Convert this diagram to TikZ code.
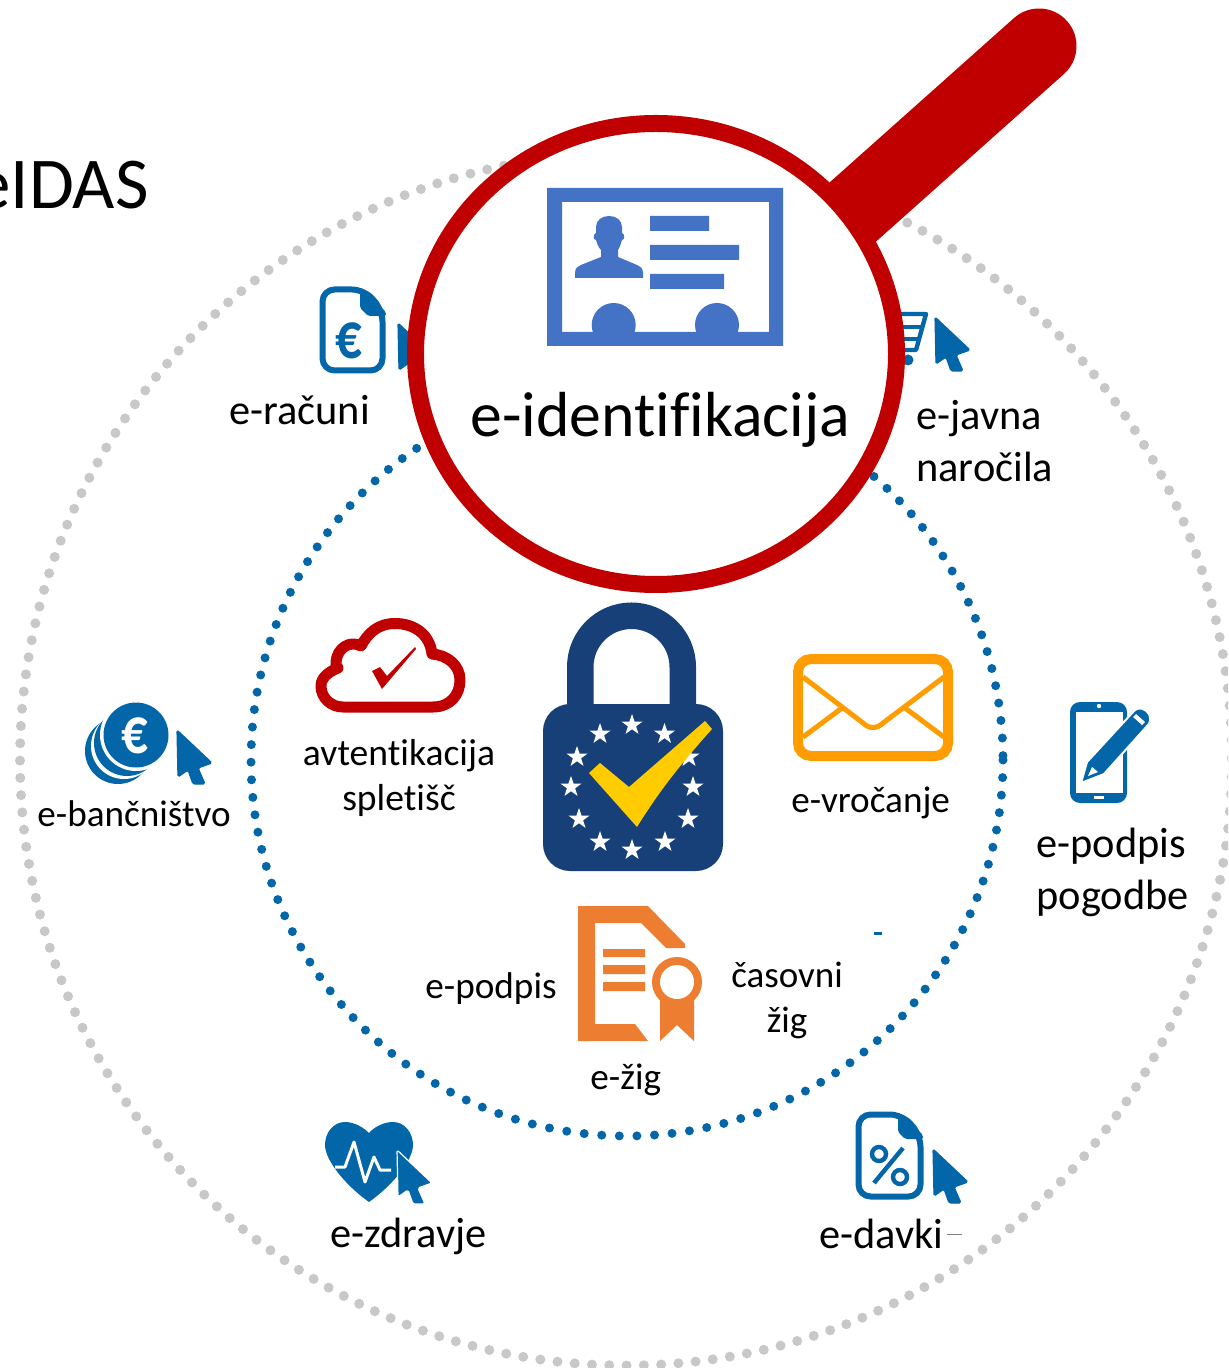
\documentclass[tikz,border=0pt]{standalone}
\usepackage{fontspec}
\setmainfont[Ligatures=NoCommon]{Carlito}
\definecolor{iconblue}{HTML}{0366A9}
\definecolor{dotgrey}{HTML}{C8C8C8}
\definecolor{magred}{HTML}{C00000}
\definecolor{cardblue}{HTML}{4472C4}
\definecolor{lockblue}{HTML}{174078}
\definecolor{checkyellow}{HTML}{FFCC00}
\definecolor{mailorange}{HTML}{FF9C00}
\definecolor{sealorange}{HTML}{ED7D31}
\tikzset{
  biglabel/.style={anchor=base west,inner sep=0pt,font=\fontsize{21.2}{24}\selectfont},
  smalllabel/.style={anchor=base west,inner sep=0pt,font=\fontsize{18.6}{22}\selectfont},
  midlabel/.style={anchor=base,inner sep=0pt,font=\fontsize{18.8}{22}\selectfont},
  eurosign/.style={inner sep=0pt,font=\fontsize{33}{35}\selectfont\bfseries},
  docline/.style={draw=iconblue,line width=3pt,rounded corners=6pt,line join=round},
}
\newcommand\curs[3][iconblue]{%
  \begin{scope}[shift={(#2,#3)}]
    \path[fill=iconblue,draw=#1,line width=0.6pt,rounded corners=0.8pt,line join=round]
      (0,0) -- (35,33) -- (21,38) -- (28,54) -- (16,54) -- (11,40) -- (1,47) -- cycle;
  \end{scope}}
\newcommand\eustar[2]{%
  \begin{scope}[shift={(#1,#2)}]
    \fill[white] (0,-11) -- (2.6,-3.4) -- (10.5,-3.4) -- (4.1,1.3) -- (6.5,8.9) -- (0,4.2)
      -- (-6.5,8.9) -- (-4.1,1.3) -- (-10.5,-3.4) -- (-2.6,-3.4) -- cycle;
  \end{scope}}
\begin{document}
\begin{tikzpicture}[x=0.5pt,y=-0.5pt]
\useasboundingbox (0,0) rectangle (1228,1368);
\clip (0,0) rectangle (1228,1368);
\fill[white] (0,0) rectangle (1228,1368);
% dotted rings
\draw[dotgrey,line width=5pt,line cap=round,dash pattern=on 0pt off 8.65pt] (626,759.5) circle [radius=606];
\draw[iconblue,line width=4.5pt,line cap=round,dash pattern=on 0pt off 8.8pt] (627,760) circle [radius=376];
\fill[iconblue] (874,932) rectangle (882,934.5);
% title
\node[anchor=base east,inner sep=0pt,font=\fontsize{36.5}{40}\selectfont] (title) at (149,209) {eIDAS};
% e-racuni icon
\draw[docline] (322.5,330) -- (322.5,289.5) -- (364,289.5) -- (382.5,310) -- (382.5,370.5) -- (322.5,370.5) -- cycle;
\fill[iconblue,rounded corners=1pt] (360,287) -- (386,312) -- (386,316) -- (368,316) -- (360,308) -- cycle;
\node[eurosign,text=iconblue] (euroA) at (349,341) {\scalebox{.8}[1]{€}};
\curs{398}{323}
% cart
\draw[iconblue,line width=2.2pt,line join=round] (897,314) -- (926,314) -- (916,350) -- (900,350);
\draw[iconblue,line width=2pt] (900,327) -- (922,327) (900,339) -- (919,339);
\fill[iconblue] (908,360) circle [radius=5.5];
\curs{935}{317}
% handle and ring
\draw[magred,line width=37.5pt,line cap=round] (1039,46) -- (790,268);
\draw[magred,fill=white,line width=8.5pt] (656,354) ellipse [x radius=240.5,y radius=230.5];
% card
\fill[cardblue,even odd rule] (547,188) rectangle (783,346) (562,202) rectangle (769,332);
\fill[cardblue] (650,216) rectangle (709,231) (650,245) rectangle (739,260) (650,274) rectangle (724,289);
\begin{scope}
  \clip (562,202) rectangle (769,333);
  \fill[cardblue] (613.7,325) circle [radius=22] (717,325) circle [radius=22];
\end{scope}
\fill[cardblue] (575,278) -- (575,273) .. controls (575,268) and (578,266) .. (581,265) -- (601,257) -- (601,250)
  .. controls (598,247) and (597,243) .. (596,240) .. controls (593,240) and (593,234) .. (596,233) -- (596,227)
  .. controls (596,220) and (602,216) .. (609,216) .. controls (616,216) and (622,220) .. (622,227) -- (622,233)
  .. controls (625,234) and (625,240) .. (622,240) .. controls (621,243) and (620,247) .. (618,250) -- (618,257)
  -- (637,265) .. controls (640,266) and (643,268) .. (643,273) -- (643,278) -- cycle;
\node[anchor=base west,inner sep=0pt,font=\fontsize{31.85}{36}\selectfont] (eid) at (470,437) {e-identifikacija};
% cloud
\draw[magred,line width=5.5pt,line join=round] (343,707) -- (433,707) .. controls (450,707) and (460,695) .. (460,680)
  .. controls (460,665) and (447,655) .. (432,654) .. controls (430,635) and (415,623.5) .. (395,623.5)
  .. controls (378,623.5) and (368,633) .. (361,646) .. controls (350,640) and (337,648) .. (336,662)
  .. controls (335,664) and (337,666) .. (338,668) .. controls (328,672) and (321,678) .. (321,686)
  .. controls (321,698) and (331,707) .. (343,707) -- cycle;
\fill[magred] (372,671) -- (380,667) -- (387,676) -- (415,647) -- (416,649) -- (382,689) -- cycle;
% lock
\draw[lockblue,line width=13.25pt] (580.25,710) -- (580.25,667) .. controls (580.25,638.7) and (603.2,615.75) .. (631.5,615.75)
  .. controls (659.8,615.75) and (682.75,638.7) .. (682.75,667) -- (682.75,710);
\fill[lockblue,rounded corners=13.5pt] (543,704) rectangle (723,871);
\foreach \sx/\sy in {632/725,664.5/734,689/757,693/787,688/819,665/842,632/850,600/842,579/819,571/787,577/757,600/734}
  {\eustar{\sx}{\sy}}
\fill[checkyellow] (589,773) -- (600,763) -- (629,787) -- (705,721) -- (712,729) .. controls (680,765) and (660,790) .. (637,827) -- cycle;
% envelope
\draw[mailorange,line width=5pt,rounded corners=6.5pt] (798,659) rectangle (948,756);
\draw[mailorange,line width=2.5pt,line join=round] (803,677) -- (863,723) .. controls (869,729) and (877,729) .. (883,723) -- (944,677);
\draw[mailorange,line width=2.5pt] (803,737) -- (842,708) (944,737) -- (905,708);
% seal document
\fill[sealorange] (578,906) -- (648,906) -- (685,944) -- (685,948) -- (666,948) -- (641,923) -- (595,923) -- (595,1024)
  -- (635,1024) -- (648,1041) -- (578,1041) -- cycle;
\fill[sealorange] (603,949) rectangle (645,957) (603,965) rectangle (645,974) (603,982) rectangle (645,991);
\fill[sealorange] (660,995) -- (694,995) -- (694,1041) -- (677,1025) -- (660,1041) -- cycle;
\fill[sealorange] (677,982) circle [radius=25];
\fill[white] (677,982) circle [radius=17];
% coins
\begin{scope}
  \clip (60,690) rectangle (230,784);
  \fill[iconblue] (118,751) circle [radius=33];
  \fill[white] (124,746) circle [radius=33];
  \fill[iconblue] (127,743) circle [radius=33];
  \fill[white] (136,735) circle [radius=36];
  \fill[iconblue] (136,735) circle [radius=32.5];
  \curs{177}{730}
\end{scope}
\node[eurosign,text=white] (euroB) at (135,736) {\scalebox{.8}[1]{€}};
% heart
\fill[iconblue] (369,1133) .. controls (360,1124) and (350,1122) .. (345,1122) .. controls (333,1122) and (325,1133) .. (325,1145)
  .. controls (325,1160) and (345,1185) .. (369,1202) .. controls (393,1185) and (413,1160) .. (413,1145)
  .. controls (413,1133) and (405,1122) .. (393,1122) .. controls (385,1122) and (375,1126) .. (369,1133) -- cycle;
\draw[white,line width=1.5pt,line join=round] (335,1167) -- (345,1167) -- (354,1142) -- (365,1182) -- (374,1157) -- (380,1170) -- (391,1170);
\begin{scope}
  \clip (380,1130) rectangle (445,1203);
  \curs[white]{397}{1150}
\end{scope}
% tax document
\draw[docline] (858.5,1150) -- (858.5,1114.5) -- (902,1114.5) -- (920.5,1135) -- (920.5,1196.5) -- (858.5,1196.5) -- cycle;
\fill[iconblue,rounded corners=1pt] (898,1112) -- (923,1135) -- (923,1139) -- (905,1139) -- (898,1132) -- cycle;
\draw[iconblue,line width=2.2pt] (874,1183) -- (903,1148);
\draw[iconblue,line width=2.2pt] (879,1154) circle [radius=7] (900,1177) circle [radius=7];
\curs{933}{1149}
% phone
\fill[iconblue,rounded corners=5pt] (1070,702) rectangle (1127,803);
\fill[white] (1076,712) rectangle (1123,793);
\fill[white] (1099,706) circle [radius=2.2];
\fill[white] (1094,795.5) rectangle (1104,798.5);
\path[fill=iconblue,draw=white,line width=1pt,line join=round] (1081,783) -- (1087,762) -- (1134,711) .. controls (1139,706) and (1146,709) .. (1149,714)
  .. controls (1151,719) and (1150,723) .. (1148,725) -- (1104,774) -- cycle;
\fill[white] (1088,776) -- (1092,767) -- (1098,772) -- cycle;
\fill[white] (1133,717) -- (1136,714) -- (1145,722) -- (1142,725) -- cycle;
% labels
\node[biglabel] (racuni) at (229,425) {e-računi};
\node[biglabel] (javna) at (916,430) {e-javna};
\node[biglabel] (narocila) at (916,481) {naročila};
\node[smalllabel] (banc) at (37,826) {e-bančništvo};
\node[midlabel] (avt) at (399,765) {avtentikacija};
\node[midlabel] (splet) at (399,810) {spletišč};
\node[smalllabel] (vroc) at (791,812) {e-vročanje};
\node[smalllabel] (podpisA) at (425,998) {e-podpis};
\node[midlabel,font=\fontsize{18.5}{22}\selectfont] (casovni) at (787,987) {časovni};
\node[midlabel,font=\fontsize{18.5}{22}\selectfont] (zig) at (787,1032) {žig};
\node[smalllabel] (ezig) at (590,1089) {e-žig};
\node[biglabel] (zdravje) at (330,1247) {e-zdravje};
\node[biglabel] (davki) at (819,1248) {e-davki};
\node[biglabel] (podpisB) at (1036,857) {e-podpis};
\node[biglabel] (pogodbe) at (1036,909) {pogodbe};
\draw[gray,line width=0.3pt] (947,1234) -- (962,1234);
\end{tikzpicture}
\end{document}
